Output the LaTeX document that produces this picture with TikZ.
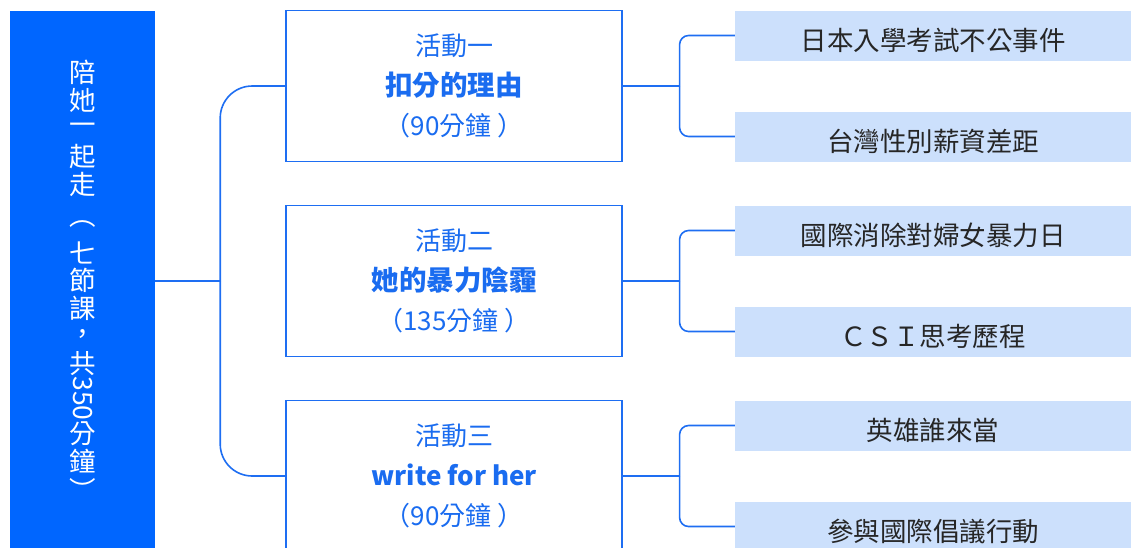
\documentclass[tikz,border=0pt]{standalone}
\usepackage{fontspec}
\usepackage{graphicx}
\newfontfamily\cjk{Noto Sans CJK TC}
\usetikzlibrary{calc, positioning}
\definecolor{topb}{HTML}{0066FF}
\definecolor{lineb}{HTML}{1E6EF2}
\definecolor{textb}{HTML}{1A6CF0}
\definecolor{leafb}{HTML}{CCE0FC}
\newcommand{\vch}[2][28pt]{\hbox to 40pt{\hss\vbox to #1{\vss\hbox{#2}\vss}\hss}}

\begin{document}
\begin{tikzpicture}[grow'=right,
                    level 1/.style={level distance=371.5pt, sibling distance=195pt,
                      edge from parent/.style={draw=lineb, line width=1.6pt, rounded corners=32pt},
                      edge from parent path={($(\tikzparentnode.east)+(65pt,0)$) |- (\tikzchildnode.west)}},
                    level 2/.style={level distance=479pt, sibling distance=101pt,
                      edge from parent/.style={draw=lineb, line width=1.6pt, rounded corners=9pt},
                      edge from parent path={(\tikzparentnode.east) -- ++(57pt,0) ($(\tikzparentnode.east)+(57pt,0)$) |- (\tikzchildnode.west)}},
                    topic/.style={fill=topb, text=white, minimum width=145pt, minimum height=540pt, inner sep=0pt, font=\cjk\fontsize{26.5}{28}\selectfont},
                    act/.style={draw=lineb, line width=1.2pt, fill=white, minimum width=336pt, minimum height=151pt, align=center, text=textb, font=\cjk\fontsize{26}{40}\selectfont},
                    task/.style={fill=leafb, minimum width=396pt, minimum height=50pt, inner sep=0pt, text height=33pt, text depth=3pt, text=black!85, font=\cjk\fontsize{26.5}{30}\selectfont}
                ]
                \useasboundingbox (0,0) rectangle (1131pt,-547pt);
                \node[topic] (root) at (82.5pt,-281pt) {\vbox{\offinterlineskip
                    \vch{陪}\vch{她}\vch{一}\vch{起}\vch{走}\vch[12pt]{}\vch{︵}\vch{七}\vch{節}\vch{課}
                    \vch[27pt]{，}\vch{共}\vch[42pt]{\rotatebox{-90}{350}}\vch{分}\vch{鐘}\vch{︶}}}
                child {node[act] (a1) {活動一\\{\fontsize{27.5}{40}\selectfont\bfseries 扣分的理由}\\（90分鐘 ）}
                    child {node[task] (t1) {日本入學考試不公事件}}
                    child {node[task] (t2) {台灣性別薪資差距}}}
                child[edge from parent path={(\tikzparentnode.east) -- ++(65pt,0)}]
                    {node[act] (a2) {活動二\\{\fontsize{27.5}{40}\selectfont\bfseries 她的暴力陰霾}\\（135分鐘 ）}
                    child {node[task] (t3) {國際消除對婦女暴力日}}
                    child {node[task] (t4) {ＣＳＩ思考歷程}}}
                child {node[act] (a3) {活動三\\\textbf{write for her}\\（90分鐘 ）}
                    child {node[task] (t5) {英雄誰來當}}
                    child {node[task] (t6) {參與國際倡議行動}}};
\end{tikzpicture}
\end{document}
